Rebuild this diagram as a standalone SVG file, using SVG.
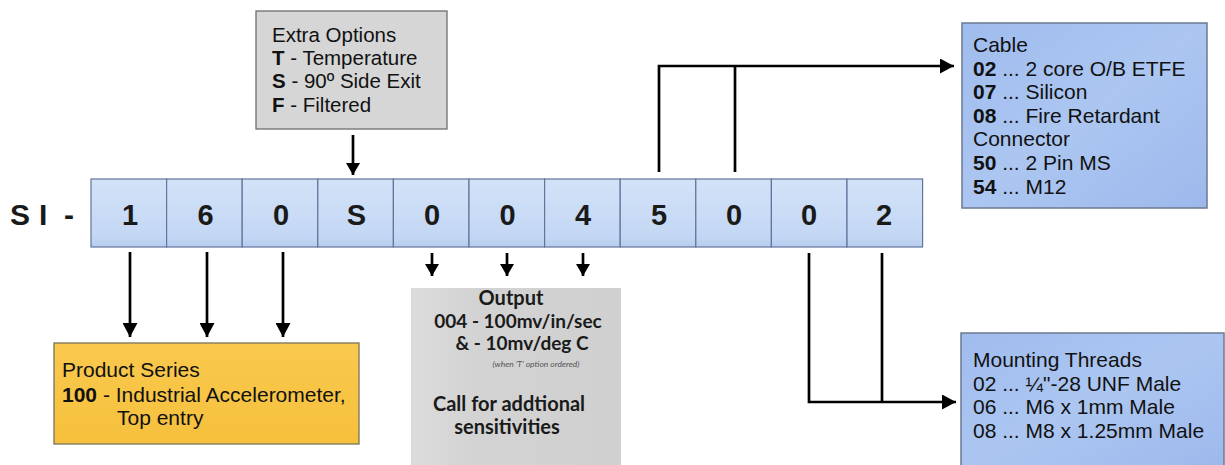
<svg xmlns="http://www.w3.org/2000/svg" width="1225" height="465" viewBox="0 0 1225 465">
  <defs>
    <marker id="ah" markerUnits="userSpaceOnUse" markerWidth="15" markerHeight="15" refX="14" refY="7.5" orient="auto">
      <path d="M0,0 L14,7.5 L0,15 z" fill="#000"/>
    </marker>
    <marker id="ahs" markerUnits="userSpaceOnUse" markerWidth="14" markerHeight="14" refX="12" refY="7" orient="auto">
      <path d="M0,0 L12,7 L0,14 z" fill="#000"/>
    </marker>
    <linearGradient id="cellg" x1="0" y1="0" x2="0" y2="1">
      <stop offset="0" stop-color="#d3e2f8"/>
      <stop offset="0.85" stop-color="#c3d7f4"/>
      <stop offset="1" stop-color="#b6cdee"/>
    </linearGradient>
    <linearGradient id="blueg" x1="0" y1="0" x2="1" y2="1">
      <stop offset="0" stop-color="#9fbcee"/>
      <stop offset="0.5" stop-color="#acc6f1"/>
      <stop offset="1" stop-color="#9db9ec"/>
    </linearGradient>
    <linearGradient id="yelg" x1="0" y1="0" x2="0" y2="1">
      <stop offset="0" stop-color="#f9c94e"/>
      <stop offset="1" stop-color="#f6c03c"/>
    </linearGradient>
    <linearGradient id="grayg" x1="0" y1="0" x2="1" y2="0">
      <stop offset="0" stop-color="#dcdcdc"/>
      <stop offset="0.3" stop-color="#d3d3d3"/>
      <stop offset="1" stop-color="#d0d0d0"/>
    </linearGradient>
    <style>
      .t { font-family: "Liberation Sans", Arial, sans-serif; font-size: 21px; fill: #111; }
      .b { font-weight: bold; }
      .cell { fill: url(#cellg); stroke: #62759c; stroke-width: 1.2; }
      .digit { font-family: "Liberation Sans", Arial, sans-serif; font-size: 29px; font-weight: bold; fill: #1a1a1a; text-anchor: middle; }
      .o { font-family: Lato, "Open Sans", sans-serif; font-weight: bold; font-size: 19px; fill: #1a1a1a; text-anchor: middle; }
      .conn { fill: none; stroke: #000; stroke-width: 2.7; }
    </style>
  </defs>
  <rect width="1225" height="465" fill="#ffffff"/>

  <g id="prefix">
    <text class="digit" style="text-anchor:start;font-size:30px" x="10 39 64" y="225">SI-</text>
  </g>

  <g id="code-bar">
    <rect class="cell" x="91" y="179" width="75.6" height="68"/>
    <rect class="cell" x="166.6" y="179" width="75.6" height="68"/>
    <rect class="cell" x="242.2" y="179" width="75.6" height="68"/>
    <rect class="cell" x="317.8" y="179" width="75.6" height="68"/>
    <rect class="cell" x="393.4" y="179" width="75.6" height="68"/>
    <rect class="cell" x="469" y="179" width="75.6" height="68"/>
    <rect class="cell" x="544.6" y="179" width="75.6" height="68"/>
    <rect class="cell" x="620.2" y="179" width="75.6" height="68"/>
    <rect class="cell" x="695.8" y="179" width="75.6" height="68"/>
    <rect class="cell" x="771.4" y="179" width="75.6" height="68"/>
    <rect class="cell" x="847" y="179" width="75.6" height="68"/>
    <text class="digit" x="130" y="225">1</text>
    <text class="digit" x="205.5" y="225">6</text>
    <text class="digit" x="281" y="225">0</text>
    <text class="digit" x="356.5" y="225">S</text>
    <text class="digit" x="432" y="225">0</text>
    <text class="digit" x="507.5" y="225">0</text>
    <text class="digit" x="583" y="225">4</text>
    <text class="digit" x="659" y="225">5</text>
    <text class="digit" x="734" y="225">0</text>
    <text class="digit" x="809" y="225">0</text>
    <text class="digit" x="884" y="225">2</text>
  </g>

  <g id="extra-options">
    <rect x="256" y="11" width="191" height="118" fill="#d6d6d6" stroke="#6e6e6e" stroke-width="1.3"/>
    <text class="t" x="272" y="42" style="font-size:20.5px">Extra Options</text>
    <text class="t" x="272" y="65" style="font-size:20.5px"><tspan class="b">T</tspan> - Temperature</text>
    <text class="t" x="272" y="88" style="font-size:20.5px"><tspan class="b">S</tspan> - 90º Side Exit</text>
    <text class="t" x="272" y="112" style="font-size:20.5px"><tspan class="b">F</tspan> - Filtered</text>
  </g>

  <g id="cable">
    <rect x="962" y="23" width="245" height="185" fill="url(#blueg)" stroke="#6c7890" stroke-width="1.5"/>
    <text class="t" x="973" y="52">Cable</text>
    <text class="t" x="973" y="75.6"><tspan class="b">02</tspan> ... 2 core O/B ETFE</text>
    <text class="t" x="973" y="99.2"><tspan class="b">07</tspan> ... Silicon</text>
    <text class="t" x="973" y="122.8"><tspan class="b">08</tspan> ... Fire Retardant</text>
    <text class="t" x="973" y="146.4">Connector</text>
    <text class="t" x="973" y="170"><tspan class="b">50</tspan> ... 2 Pin MS</text>
    <text class="t" x="973" y="193.6"><tspan class="b">54</tspan> ... M12</text>
  </g>

  <g id="product-series">
    <rect x="54" y="343" width="305" height="101" fill="url(#yelg)" stroke="#7a7358" stroke-width="1.3"/>
    <text class="t" x="62" y="377">Product Series</text>
    <text class="t" x="62" y="402"><tspan class="b">100</tspan> - Industrial Accelerometer,</text>
    <text class="t" x="117" y="425">Top entry</text>
  </g>

  <g id="output">
    <rect x="411" y="288" width="210" height="177" fill="url(#grayg)"/>
    <text class="o" x="511" y="305" style="font-size:20px">Output</text>
    <text class="o" x="518" y="327.5">004 - 100mv/in/sec</text>
    <text class="o" x="522" y="349.5">&amp; - 10mv/deg C</text>
    <text class="o" x="536" y="367" style="font-size:8.5px;font-weight:normal;font-style:italic;fill:#555">(when 'T' option ordered)</text>
    <text class="o" x="509" y="411" style="font-size:20px">Call for addtional</text>
    <text class="o" x="507" y="433.5" style="font-size:20px">sensitivities</text>
  </g>

  <g id="mounting-threads">
    <rect x="961" y="333" width="263" height="133" fill="url(#blueg)" stroke="#6c7890" stroke-width="1.5"/>
    <text class="t" x="973" y="367">Mounting Threads</text>
    <text class="t" x="973" y="390.5">02 ... ¼"-28 UNF Male</text>
    <text class="t" x="973" y="414">06 ... M6 x 1mm Male</text>
    <text class="t" x="973" y="437.5">08 ... M8 x 1.25mm Male</text>
  </g>

  <g id="connectors">
    <line class="conn" x1="353" y1="135" x2="353" y2="175" marker-end="url(#ahs)"/>
    <path class="conn" d="M659,172 V66 H954" marker-end="url(#ah)"/>
    <path class="conn" d="M735,172 V66"/>
    <path class="conn" d="M809,253 V402 H956" marker-end="url(#ah)"/>
    <path class="conn" d="M882,253 V402"/>
    <line class="conn" x1="130" y1="252" x2="130" y2="337" marker-end="url(#ah)"/>
    <line class="conn" x1="207" y1="252" x2="207" y2="337" marker-end="url(#ah)"/>
    <line class="conn" x1="283" y1="252" x2="283" y2="337" marker-end="url(#ah)"/>
    <line class="conn" x1="432" y1="253" x2="432" y2="276" marker-end="url(#ahs)"/>
    <line class="conn" x1="507" y1="253" x2="507" y2="276" marker-end="url(#ahs)"/>
    <line class="conn" x1="583" y1="253" x2="583" y2="276" marker-end="url(#ahs)"/>
  </g>
</svg>
